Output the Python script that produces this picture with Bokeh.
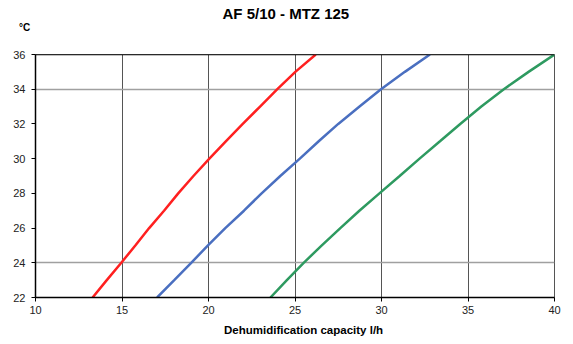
from bokeh.plotting import figure
from bokeh.models import Range1d, FixedTicker, Title, Span
from bokeh.embed import file_html
from bokeh.resources import INLINE

title_text = "AF 5/10 - MTZ 125"
y_unit = "°C"
x_label = "Dehumidification capacity l/h"

x_ticks = [10, 15, 20, 25, 30, 35, 40]
y_ticks = [22, 24, 26, 28, 30, 32, 34, 36]
x_grid = [15, 20, 25, 30, 35]
y_grid = [24, 34]

temps = [22, 23, 24, 25, 26, 27, 28, 29, 30, 31, 32, 33, 34, 35, 36]
red = [13.3, 14.12, 14.96, 15.77, 16.57, 17.43, 18.25, 19.13, 20.05, 21.0, 21.98, 22.98, 23.98, 25.02, 26.2]
blue = [17.03, 18.02, 19.0, 19.97, 20.97, 22.05, 23.07, 24.15, 25.28, 26.37, 27.5, 28.73, 29.97, 31.35, 32.8]
green = [23.58, 24.53, 25.5, 26.55, 27.62, 28.72, 29.88, 31.05, 32.2, 33.38, 34.55, 35.77, 37.07, 38.5, 40.0]

FONT = "Liberation Sans"

p = figure(frame_width=519, frame_height=243,
           x_range=Range1d(10, 40), y_range=Range1d(22, 36),
           output_backend="svg", toolbar_location=None,
           min_border_left=35, min_border_right=19,
           min_border_top=54, min_border_bottom=47,
           background_fill_color="white", border_fill_color="white")

p.outline_line_color = "#555555"

for ax in (p.xaxis, p.yaxis):
    ax.minor_tick_line_color = None
    ax.major_tick_in = 0
    ax.major_tick_out = 4
    ax.axis_line_color = "black"
    ax.axis_line_width = 1.5
    ax.major_tick_line_color = "black"
    ax.major_label_text_font = FONT
    ax.major_label_text_font_size = "11px"
    ax.major_label_text_color = "#222222"

p.xaxis.ticker = FixedTicker(ticks=x_ticks)
p.yaxis.ticker = FixedTicker(ticks=y_ticks)
p.xaxis.major_label_standoff = 4
p.yaxis.major_label_standoff = 6

p.xgrid.ticker = FixedTicker(ticks=x_grid)
p.xgrid.grid_line_color = "#555555"
p.xgrid.grid_line_width = 1
p.ygrid.ticker = FixedTicker(ticks=y_grid)
p.ygrid.grid_line_color = "#a0a0a0"
p.ygrid.grid_line_width = 1.5

p.add_layout(Span(location=36, dimension="width", line_color="black", line_width=1.5))

p.line(red, temps, line_color="#ff2020", line_width=2.5)
p.line(blue, temps, line_color="#4a6fc0", line_width=2.5)
p.line(green, temps, line_color="#2e9a60", line_width=2.5)

p.title.text = title_text
p.title.align = "left"
p.title.offset = 187
p.title.text_font = FONT
p.title.text_font_style = "bold"
p.title.text_font_size = "15px"
p.title.text_color = "black"
p.title.standoff = -38

unit_title = Title(text=y_unit, align="left", offset=-16.5, text_font=FONT,
                   text_font_style="bold", text_font_size="10px", text_color="black",
                   standoff=39, vertical_align="top")
p.add_layout(unit_title, "above")

xl = Title(text=x_label, align="left", offset=188.5, text_font=FONT,
           text_font_style="bold", text_font_size="11.5px", text_color="black",
           standoff=11)
p.add_layout(xl, "below")

open("out.html", "w").write(file_html(p, INLINE))
